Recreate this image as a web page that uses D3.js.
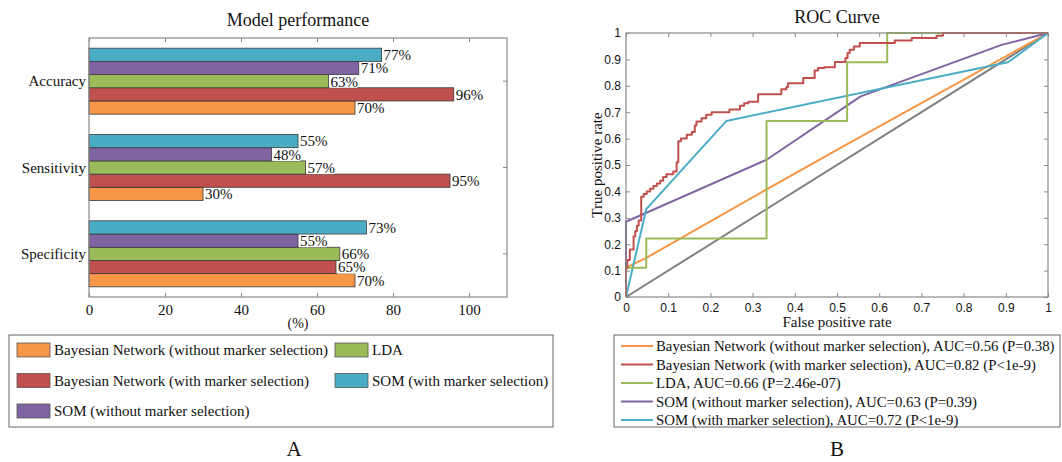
<!DOCTYPE html>
<html>
<head>
<meta charset="utf-8">
<script src="https://cdn.jsdelivr.net/npm/d3@7"></script>
<style>
  body { margin: 0; background: #fff; }
  text { font-family: "Liberation Serif", "Times New Roman", serif; fill: #111; }
</style>
</head>
<body>
<div id="drawArea"></div>
<script>
// ---- data (panel A) ----
const categories = ['Accuracy', 'Sensitivity', 'Specificity'];
const methods = [
  'Bayesian Network (without marker selection)',
  'Bayesian Network (with marker selection)',
  'LDA',
  'SOM (without marker selection)',
  'SOM (with marker selection)'
];
const bnWithout = [70, 30, 70];
const bnWith = [96, 95, 65];
const lda = [63, 57, 66];
const somWithout = [71, 48, 55];
const somWith = [77, 55, 73];
const barTicks = [0, 20, 40, 60, 80, 100];
// legend A slots: [column, row] per method
const legendSlots = [[0, 0], [0, 1], [1, 0], [0, 2], [1, 1]];

// ---- data (panel B) ----
const rocLabels = [
  'Bayesian Network (without marker selection), AUC=0.56 (P=0.38)',
  'Bayesian Network (with marker selection), AUC=0.82 (P<1e-9)',
  'LDA, AUC=0.66 (P=2.46e-07)',
  'SOM (without marker selection), AUC=0.63 (P=0.39)',
  'SOM (with marker selection), AUC=0.72 (P<1e-9)'
];
const rocBnWithout = [[0, 0], [0, 0.11], [0.05, 0.15], [0.33, 0.405], [0.52, 0.575], [1, 1]];
const rocBnWith = [[0, 0], [0, 0.11], [0.003, 0.14], [0.009, 0.18], [0.018, 0.23], [0.022, 0.25],
  [0.026, 0.27], [0.03, 0.29], [0.036, 0.38], [0.042, 0.39], [0.049, 0.40], [0.057, 0.41],
  [0.065, 0.42], [0.073, 0.43], [0.081, 0.44], [0.088, 0.455], [0.096, 0.465], [0.112, 0.475],
  [0.12, 0.51], [0.124, 0.59], [0.13, 0.60], [0.144, 0.615], [0.156, 0.625], [0.163, 0.65],
  [0.167, 0.665], [0.179, 0.677], [0.19, 0.69], [0.203, 0.70], [0.245, 0.71], [0.27, 0.724],
  [0.28, 0.734], [0.29, 0.74], [0.313, 0.768], [0.368, 0.787], [0.38, 0.795], [0.384, 0.81],
  [0.42, 0.83], [0.447, 0.858], [0.455, 0.867], [0.47, 0.87], [0.495, 0.89], [0.52, 0.905],
  [0.525, 0.924], [0.53, 0.937], [0.54, 0.949], [0.554, 0.962], [0.637, 0.972], [0.677, 0.981],
  [0.736, 0.99], [0.751, 1.0], [1, 1]];
const rocLda = [[0, 0], [0, 0.111], [0.048, 0.222], [0.333, 0.667], [0.524, 0.889], [0.619, 1], [1, 1]];
const rocSomWithout = [[0, 0], [0, 0.285], [0.333, 0.52], [0.556, 0.76], [0.89, 0.955], [1, 1]];
const rocSomWith = [[0, 0], [0.048, 0.333], [0.238, 0.667], [0.905, 0.889], [1, 1]];
const rocDiagonal = [[0, 0], [1, 1]];
const rocTicks = [0, 0.1, 0.2, 0.3, 0.4, 0.5, 0.6, 0.7, 0.8, 0.9, 1];

const colors = ['#F79646', '#C0504D', '#9BBB59', '#8064A2', '#4BACC6'];
const frameColor = '#8a8a8a';

const svg = d3.select('#drawArea').append('svg')
  .attr('width', 1062)
  .attr('height', 462)
  .style('display', 'block');
svg.append('rect').attr('width', 1062).attr('height', 462).attr('fill', '#fff');

// ================= Panel A: bar chart =================
const barSeries = [bnWithout, bnWith, lda, somWithout, somWith];
const a = { left: 89, right: 507, top: 38, bottom: 297 };

const xBar = d3.scaleLinear().domain([0, 110]).range([a.left, a.right]);
const yCat = d3.scaleBand().domain(categories).range([a.top, a.bottom]);
// top to bottom: SOM with, SOM without, LDA, BN with, BN without
const yInner = d3.scaleBand()
  .domain([4, 3, 2, 1, 0])
  .range([0, yCat.bandwidth()])
  .paddingOuter(0.77);

svg.append('text')
  .attr('x', (a.left + a.right) / 2).attr('y', 26)
  .attr('text-anchor', 'middle').attr('font-size', 18)
  .text('Model performance');

// bottom / top ticks
const axA = svg.append('g').attr('transform', `translate(0,${a.bottom})`)
  .call(d3.axisBottom(xBar).tickValues(barTicks).tickSizeInner(-4).tickSizeOuter(0).tickPadding(7));
axA.select('.domain').remove();
axA.selectAll('line').attr('stroke', frameColor);
axA.selectAll('text').attr('font-size', 15).attr('font-family', '"Liberation Serif", serif').attr('fill', '#111');

const axAt = svg.append('g').attr('transform', `translate(0,${a.top})`)
  .call(d3.axisTop(xBar).tickValues(barTicks).tickSizeInner(-4).tickSizeOuter(0).tickFormat(''));
axAt.select('.domain').remove();
axAt.selectAll('line').attr('stroke', frameColor);

// right-side category ticks
const axAr = svg.append('g').attr('transform', `translate(${a.right},0)`)
  .call(d3.axisRight(yCat).tickSizeInner(-4).tickSizeOuter(0).tickFormat(''));
axAr.select('.domain').remove();
axAr.selectAll('line').attr('stroke', frameColor);

// category labels
svg.append('g').selectAll('text')
  .data(categories)
  .enter()
  .append('text')
  .attr('x', a.left - 3)
  .attr('y', d => yCat(d) + yCat.bandwidth() / 2)
  .attr('dy', '0.35em')
  .attr('text-anchor', 'end')
  .attr('font-size', 15)
  .text(d => d);

const barData = [];
categories.forEach((c, ci) => {
  barSeries.forEach((s, si) => barData.push({ cat: c, series: si, value: s[ci] }));
});

const bar = svg.append('g').selectAll('.bar-group')
  .data(barData)
  .enter()
  .append('g')
  .attr('class', 'bar-group');

bar.append('rect')
  .attr('x', xBar(0))
  .attr('y', d => yCat(d.cat) + yInner(d.series))
  .attr('width', d => xBar(d.value) - xBar(0))
  .attr('height', yInner.bandwidth())
  .attr('fill', d => colors[d.series])
  .attr('stroke', '#3a3a3a')
  .attr('stroke-width', 0.8);

bar.append('rect')
  .attr('x', d => xBar(d.value) + 1)
  .attr('y', d => yCat(d.cat) + yInner(d.series) + 1)
  .attr('width', 28)
  .attr('height', yInner.bandwidth() - 1)
  .attr('fill', '#fff');

bar.append('text')
  .attr('x', d => xBar(d.value) + 2)
  .attr('y', d => yCat(d.cat) + yInner(d.series) + yInner.bandwidth() / 2)
  .attr('dy', '0.36em')
  .attr('font-size', 15)
  .text(d => d.value + '%');

svg.append('rect')
  .attr('x', a.left).attr('y', a.top)
  .attr('width', a.right - a.left).attr('height', a.bottom - a.top)
  .attr('fill', 'none').attr('stroke', frameColor).attr('stroke-width', 1.2);

svg.append('text')
  .attr('x', (a.left + a.right) / 2).attr('y', 328)
  .attr('text-anchor', 'middle').attr('font-size', 14)
  .text('(%)');

// legend A (2 columns)
svg.append('rect')
  .attr('x', 9).attr('y', 335).attr('width', 544).attr('height', 92)
  .attr('fill', '#fff').attr('stroke', '#666').attr('stroke-width', 1);

const legA = svg.append('g').selectAll('g')
  .data(methods)
  .enter()
  .append('g')
  .attr('transform', (d, i) => `translate(${legendSlots[i][0] === 0 ? 17 : 335},${350 + legendSlots[i][1] * 30.5})`);
legA.append('rect')
  .attr('x', 0).attr('y', -7).attr('width', 33).attr('height', 14)
  .attr('fill', (d, i) => colors[i]).attr('stroke', '#555').attr('stroke-width', 0.8);
legA.append('text')
  .attr('x', 37).attr('y', 0).attr('dy', '0.35em')
  .attr('font-size', 15)
  .text(d => d);

svg.append('text')
  .attr('x', 294).attr('y', 456)
  .attr('text-anchor', 'middle').attr('font-size', 21)
  .text('A');

// ================= Panel B: ROC =================
const b = { left: 626, right: 1048, top: 33, bottom: 297 };
const xRoc = d3.scaleLinear().domain([0, 1]).range([b.left, b.right]);
const yRoc = d3.scaleLinear().domain([0, 1]).range([b.bottom, b.top]);
const fmt = d => (d === 0 || d === 1) ? String(d) : d3.format('.1f')(d);

svg.append('text')
  .attr('x', (b.left + b.right) / 2).attr('y', 23)
  .attr('text-anchor', 'middle').attr('font-size', 18)
  .text('ROC Curve');

const axB = svg.append('g').attr('transform', `translate(0,${b.bottom})`)
  .call(d3.axisBottom(xRoc).tickValues(rocTicks).tickFormat(fmt).tickSizeInner(-4).tickSizeOuter(0).tickPadding(6));
const axBt = svg.append('g').attr('transform', `translate(0,${b.top})`)
  .call(d3.axisTop(xRoc).tickValues(rocTicks).tickFormat('').tickSizeInner(-4).tickSizeOuter(0));
const axBl = svg.append('g').attr('transform', `translate(${b.left},0)`)
  .call(d3.axisLeft(yRoc).tickValues(rocTicks).tickFormat(fmt).tickSizeInner(-4).tickSizeOuter(0).tickPadding(5));
const axBr = svg.append('g').attr('transform', `translate(${b.right},0)`)
  .call(d3.axisRight(yRoc).tickValues(rocTicks).tickFormat('').tickSizeInner(-4).tickSizeOuter(0));
[axB, axBt, axBl, axBr].forEach(g => {
  g.select('.domain').remove();
  g.selectAll('line').attr('stroke', frameColor);
  g.selectAll('text').attr('font-size', 12).attr('fill', '#111')
    .style('font-family', '"Liberation Sans", Arial, sans-serif');
});

const line = d3.line().x(d => xRoc(d[0])).y(d => yRoc(d[1]));
const stepLine = d3.line().x(d => xRoc(d[0])).y(d => yRoc(d[1])).curve(d3.curveStepAfter);

const plotB = svg.append('g');
plotB.append('path').attr('d', line(rocDiagonal))
  .attr('fill', 'none').attr('stroke', '#808080').attr('stroke-width', 2);

const rocSeries = [
  { pts: rocBnWithout, gen: line },
  { pts: rocBnWith, gen: stepLine },
  { pts: rocLda, gen: stepLine },
  { pts: rocSomWithout, gen: line },
  { pts: rocSomWith, gen: line }
];
// draw order roughly like the reference: orange, purple, cyan, green, red
[0, 3, 4, 2, 1].forEach(i => {
  plotB.append('path')
    .attr('d', rocSeries[i].gen(rocSeries[i].pts))
    .attr('fill', 'none')
    .attr('stroke', colors[i])
    .attr('stroke-width', 2)
    .attr('stroke-linejoin', 'round');
});

svg.append('rect')
  .attr('x', b.left).attr('y', b.top)
  .attr('width', b.right - b.left).attr('height', b.bottom - b.top)
  .attr('fill', 'none').attr('stroke', frameColor).attr('stroke-width', 1.2);

svg.append('text')
  .attr('x', (b.left + b.right) / 2).attr('y', 327)
  .attr('text-anchor', 'middle').attr('font-size', 15)
  .text('False positive rate');

svg.append('text')
  .attr('transform', `translate(602,${(b.top + b.bottom) / 2}) rotate(-90)`)
  .attr('text-anchor', 'middle').attr('font-size', 15)
  .text('True positive rate');

// legend B
svg.append('rect')
  .attr('x', 614).attr('y', 335).attr('width', 446).attr('height', 92)
  .attr('fill', '#fff').attr('stroke', '#666').attr('stroke-width', 1);

const legB = svg.append('g').selectAll('g')
  .data(rocLabels)
  .enter()
  .append('g')
  .attr('transform', (d, i) => `translate(621,${346 + i * 18.5})`);
legB.append('line')
  .attr('x1', 0).attr('x2', 32).attr('y1', 0).attr('y2', 0)
  .attr('stroke', (d, i) => colors[i]).attr('stroke-width', 2);
legB.append('text')
  .attr('x', 35).attr('y', 0).attr('dy', '0.35em')
  .attr('font-size', 14.8)
  .text(d => d);

svg.append('text')
  .attr('x', 837).attr('y', 456)
  .attr('text-anchor', 'middle').attr('font-size', 21)
  .text('B');
</script>
</body>
</html>
